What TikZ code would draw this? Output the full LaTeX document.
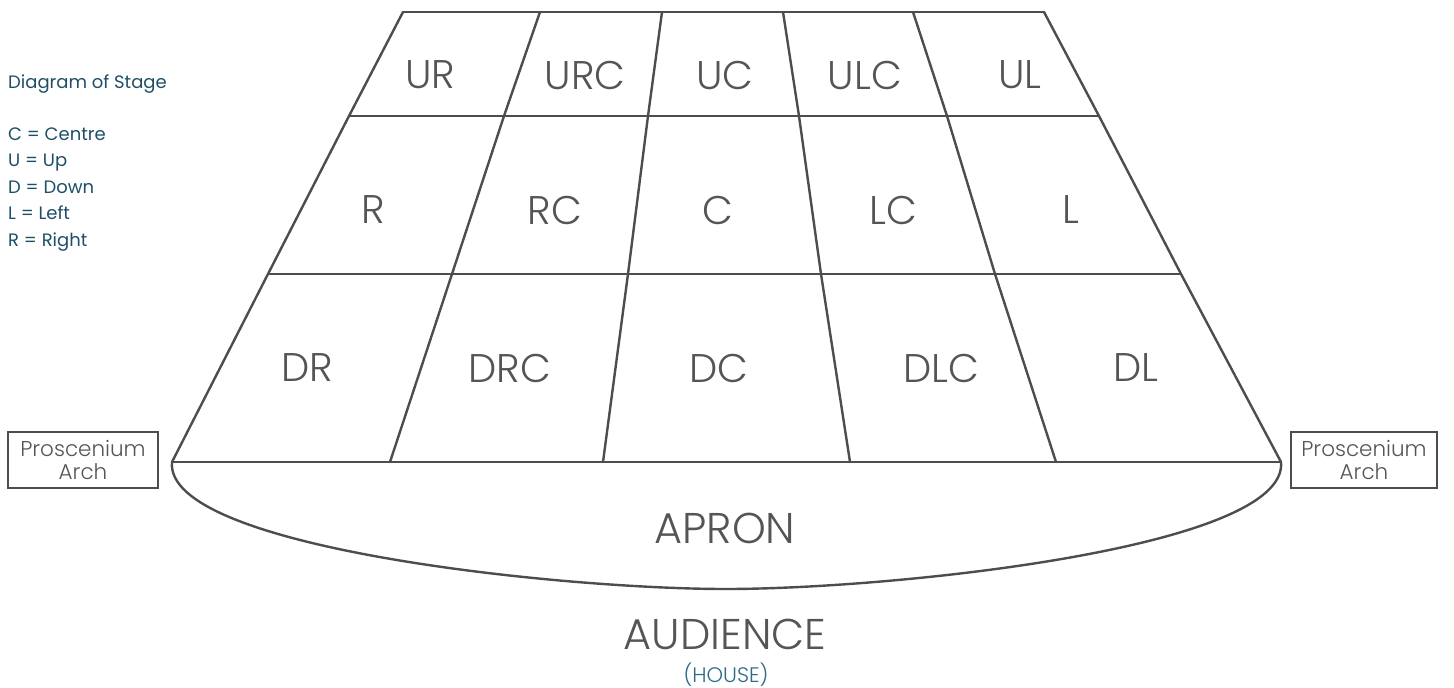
\documentclass[tikz,border=0pt]{standalone}
\usepackage{fontspec}
\newfontfamily\labfont{Poppins Light}
\newfontfamily\legfont{Poppins}
\definecolor{linegray}{HTML}{4D4D4D}
\definecolor{textgray}{HTML}{555555}
\definecolor{legteal}{HTML}{1F4F66}
\definecolor{houseteal}{HTML}{2E6A85}
\begin{document}
\begin{tikzpicture}[x=1pt,y=-1pt,
  stageline/.style={draw=linegray,line width=2.4pt,line cap=round,line join=round},
  cell/.style={text=textgray,font=\labfont\fontsize{40}{44}\selectfont,inner sep=0pt,anchor=center},
  big/.style={text=textgray,font=\labfont\fontsize{43}{47}\selectfont,inner sep=0pt},
  legend/.style={text=legteal,font=\legfont\fontsize{18}{21}\selectfont,inner sep=0pt,anchor=base west},
  archbox/.style={draw=linegray,line width=2.2pt,minimum width=150pt,minimum height=56pt,inner sep=0pt,
    text=textgray,align=center,font=\labfont\fontsize{21.5}{22.5}\selectfont}
]
\useasboundingbox (0,0) rectangle (1454,688);
% grid coordinates
\coordinate (a0) at (403,12);  \coordinate (a1) at (540,12);  \coordinate (a2) at (662,12);
\coordinate (a3) at (783,12);  \coordinate (a4) at (913,12);  \coordinate (a5) at (1044,12);
\coordinate (b0) at (349,116); \coordinate (b1) at (504,116); \coordinate (b2) at (648,116);
\coordinate (b3) at (799,116); \coordinate (b4) at (947,116); \coordinate (b5) at (1099,116);
\coordinate (c0) at (268,274); \coordinate (c1) at (452,274); \coordinate (c2) at (628,274);
\coordinate (c3) at (821,274); \coordinate (c4) at (995,274); \coordinate (c5) at (1181,274);
\coordinate (d0) at (172,462); \coordinate (d1) at (390,462); \coordinate (d2) at (603,462);
\coordinate (d3) at (850,462); \coordinate (d4) at (1056,462); \coordinate (d5) at (1281,462);
\coordinate (ab) at (726,589);
% horizontal lines
\draw[stageline] (a0) -- (a5);
\draw[stageline] (b0) -- (b5);
\draw[stageline] (c0) -- (c5);
\draw[stageline] (d0) -- (d5);
% dividers
\foreach \i in {0,...,5}{
  \draw[stageline] (a\i) -- (b\i) -- (c\i) -- (d\i);
}
% apron
\draw[stageline] (d0) .. controls (164,548) and (560,589) .. (ab)
                      .. controls (892,589) and (1289,548) .. (d5);
% cell labels
\node[cell] (ur)  at (430,75) {UR};
\node[cell] (urc) at (585,75) {URC};
\node[cell] (uc)  at (725,75) {UC};
\node[cell] (ulc) at (865,75) {ULC};
\node[cell] (ul)  at (1020,75) {UL};
\node[cell] (r)   at (373,210) {R};
\node[cell] (rc)  at (555,210) {RC};
\node[cell] (c)   at (718,210) {C};
\node[cell] (lc)  at (893,210) {LC};
\node[cell] (l)   at (1071,210) {L};
\node[cell] (dr)  at (307,368) {DR};
\node[cell] (drc) at (510,368) {DRC};
\node[cell] (dc)  at (719,368) {DC};
\node[cell] (dlc) at (941,368) {DLC};
\node[cell] (dl)  at (1136,368) {DL};
\node[big] (apron) at (725,528) {APRON};
\node[big] (aud) at (725,634) {AUDIENCE};
\node[text=houseteal,font=\labfont\fontsize{21}{23}\selectfont,inner sep=0pt] (house) at (726,675) {(HOUSE)};
% proscenium boxes
\node[archbox] (pl) at (83,460) {Proscenium\\Arch};
\node[archbox,minimum width=146pt] (pr) at (1364,460) {Proscenium\\Arch};
% legend
\node[legend] (title) at (8,88) {Diagram of Stage};
\node[legend] (k1) at (8,140) {C = Centre};
\node[legend] (k2) at (8,166.5) {U = Up};
\node[legend] (k3) at (8,193) {D = Down};
\node[legend] (k4) at (8,219.5) {L = Left};
\node[legend] (k5) at (8,246) {R = Right};
\end{tikzpicture}
\end{document}
